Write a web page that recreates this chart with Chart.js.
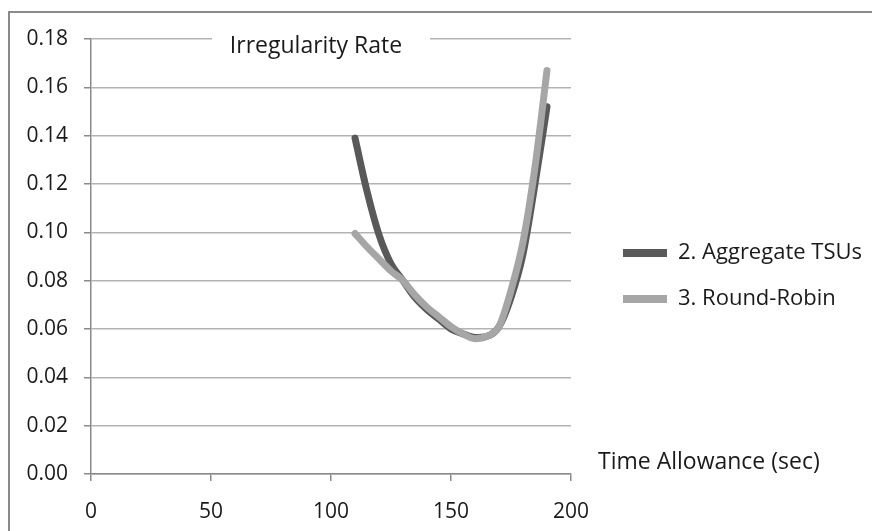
<!DOCTYPE html>
<html>
<head>
<meta charset="utf-8">
<script src="https://cdn.jsdelivr.net/npm/chart.js@4/dist/chart.umd.min.js"></script>
<style>
  html, body { margin: 0; padding: 0; background: #fff; }
  #rama { position: absolute; left: 8px; top: 11px; width: 900px; height: 600px; border: 2px solid #8a8a8a; }
  #wrap { position: absolute; left: 0; top: 0; width: 872px; height: 531px; }
</style>
</head>
<body>
<div id="rama"></div>
<div id="wrap"><canvas id="chart"></canvas></div>
<script>
// Dane
const czas = [110, 115, 120, 125, 130, 135, 140, 145, 150, 155, 160, 165, 170, 175, 180, 185, 190];
const aggregateTSUs = [0.139, 0.117, 0.099, 0.087, 0.080, 0.073, 0.068, 0.064, 0.060, 0.058, 0.0565, 0.057, 0.061, 0.073, 0.091, 0.120, 0.152];
const roundRobin = [0.0995, 0.094, 0.089, 0.084, 0.080, 0.074, 0.069, 0.065, 0.061, 0.058, 0.056, 0.057, 0.061, 0.076, 0.096, 0.127, 0.167];
const nazwySerii = ['2. Aggregate TSUs', '3. Round-Robin'];
const tytul = 'Irregularity Rate';
const tytulOsiX = 'Time Allowance (sec)';

const FONT = '"Open Sans"';
const punkty = ys => czas.map((x, i) => ({ x: x, y: ys[i] }));

// Tytul i opis osi X rysowane wewnatrz obszaru wykresu (jak w Excelu)
const napisy = {
    id: 'napisy',
    beforeLayout(chart) {
        const lg = chart.legend;
        if (lg && !lg._poprawiony) {
            const fit = lg.fit;
            lg.fit = function () { fit.call(this); this.width = 301; };
            lg._poprawiony = true;
        }
    },
    afterLayout(chart) {
        const lg = chart.legend;
        lg.left += 28; lg.right += 28;
        lg.top -= 9; lg.bottom -= 9;
    },
    beforeDatasetsDraw(chart) {
        const ctx = chart.ctx;
        const area = chart.chartArea;
        ctx.save();
        ctx.fillStyle = '#fff';
        ctx.fillRect(212, area.top - 12, 218, 26);
        ctx.fillStyle = '#1a1a1a';
        ctx.font = '23px ' + FONT;
        ctx.textAlign = 'center';
        ctx.textBaseline = 'middle';
        ctx.fillText(tytul, 316, area.top + 7);
        ctx.textAlign = 'left';
        ctx.fillText(tytulOsiX, 598, area.bottom - 12);
        ctx.restore();
    }
};

new Chart(document.getElementById('chart'), {
    type: 'line',
    data: {
        datasets: [{
            label: nazwySerii[0],
            data: punkty(aggregateTSUs),
            borderColor: '#595959',
            backgroundColor: '#595959',
            borderWidth: 7,
            borderCapStyle: 'round',
            pointRadius: 0,
            cubicInterpolationMode: 'monotone',
            fill: false,
            order: 1
        }, {
            label: nazwySerii[1],
            data: punkty(roundRobin),
            borderColor: '#a6a6a6',
            backgroundColor: '#a6a6a6',
            borderWidth: 7,
            borderCapStyle: 'round',
            pointRadius: 0,
            cubicInterpolationMode: 'monotone',
            fill: false,
            order: 0
        }]
    },
    options: {
        responsive: true,
        maintainAspectRatio: false,
        animation: false,
        layout: { padding: { left: 0, top: 39, right: 0, bottom: 0 } },
        plugins: {
            title: { display: false },
            tooltip: { enabled: false },
            legend: {
                position: 'right',
                align: 'center',
                labels: {
                    color: '#1a1a1a',
                    font: { family: FONT, size: 22 },
                    boxWidth: 44,
                    boxHeight: 8,
                    padding: 24,
                    sort: (a, b) => a.datasetIndex - b.datasetIndex,
                    generateLabels: chart => Chart.defaults.plugins.legend.labels.generateLabels(chart)
                        .map(it => Object.assign(it, { lineWidth: 0 }))
                }
            }
        },
        scales: {
            x: {
                type: 'linear',
                min: 0,
                max: 200,
                afterFit: s => { s.height = 57; },
                ticks: { stepSize: 50, color: '#1a1a1a', font: { family: FONT, size: 21 }, padding: 18, maxRotation: 0 },
                grid: { drawOnChartArea: false, drawTicks: true, tickLength: 7, color: '#8a8a8a', lineWidth: 1.5 },
                border: { color: '#8a8a8a', width: 1.5 }
            },
            y: {
                min: 0,
                max: 0.18,
                afterFit: s => { s.width = 91; },
                ticks: {
                    stepSize: 0.02,
                    color: '#1a1a1a',
                    font: { family: FONT, size: 21 },
                    padding: 16,
                    callback: v => v.toFixed(2)
                },
                grid: { color: '#b3b3b3', lineWidth: 1.5, tickLength: 7, tickColor: '#8a8a8a' },
                border: { color: '#8a8a8a', width: 1.5 }
            }
        }
    },
    plugins: [napisy]
});
</script>
</body>
</html>
